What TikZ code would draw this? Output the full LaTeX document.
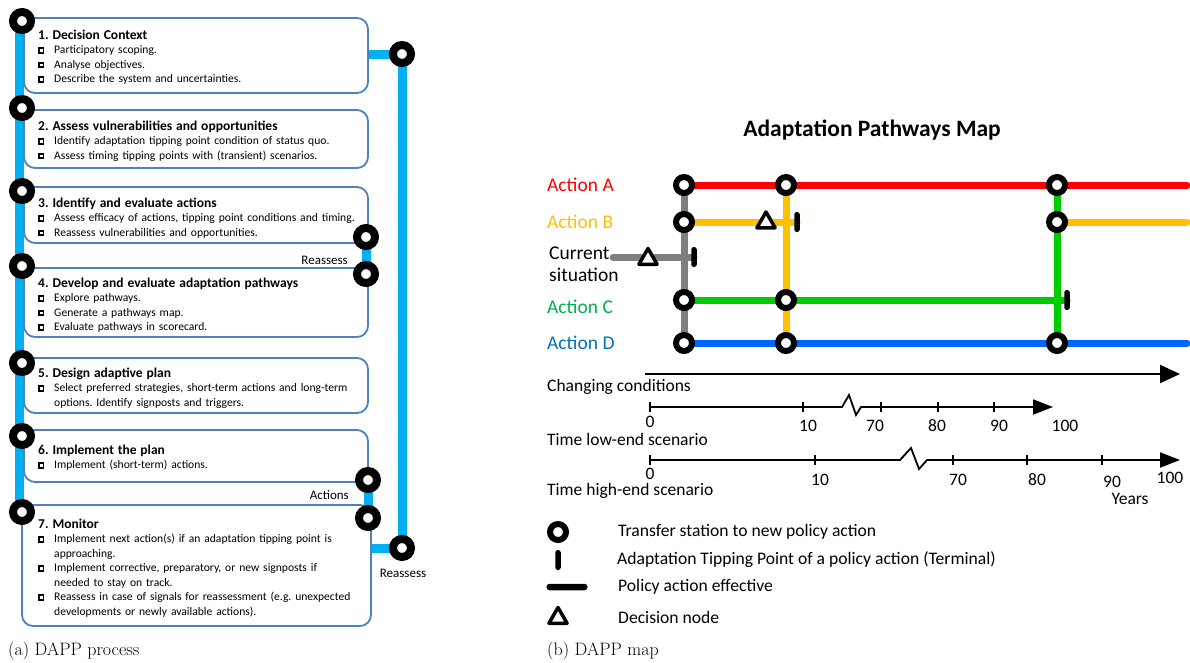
\documentclass[tikz,border=0pt]{standalone}
\usepackage{fontspec}
\newfontfamily\calfont{Carlito}
\usetikzlibrary{arrows.meta,shapes.geometric}
\pgfdeclarelayer{pipes}
\pgfsetlayers{pipes,main}
\frenchspacing

\definecolor{pipeblue}{HTML}{00B0F0}
\definecolor{boxline}{HTML}{4F81BD}
\definecolor{lineA}{HTML}{FF0000}
\definecolor{lineB}{HTML}{FFC000}
\definecolor{lineC}{HTML}{00CC00}
\definecolor{lineD}{HTML}{0066FF}
\definecolor{lineS}{HTML}{7F7F7F}
\definecolor{textC}{HTML}{00B050}
\definecolor{textD}{HTML}{0070C0}

% hollow square bullet and list lines inside the process steps
\newcommand\sqbul{\raisebox{3pt}{\setlength{\fboxsep}{1.4pt}\setlength{\fboxrule}{1.7pt}\fbox{}}}
\newcommand\itm[1]{\makebox[16pt][l]{\sqbul}#1}
\newcommand\cont[1]{\hspace*{16pt}#1}
\newcommand\ttl[1]{{\fontsize{13.5}{14.5}\selectfont\bfseries #1}}

\tikzset{
  pipe/.style={draw=pipeblue, line width=9pt},
  stepbox/.style={draw=boxline, line width=1.8pt, rounded corners=11pt, fill=white,
    inner sep=0pt, outer sep=0pt, anchor=north west},
  bigstop/.style={circle, draw=black, line width=8pt, fill=white, minimum size=18pt, inner sep=0pt},
  stop/.style={circle, draw=black, line width=6pt, fill=white, minimum size=16pt, inner sep=0pt},
  boxtext/.style={anchor=base west, inner sep=0pt, text width=400pt, align=left,
    font=\calfont\fontsize{11.6}{14.5}\selectfont},
  looplabel/.style={inner sep=0pt, font=\calfont\fontsize{13}{15}\selectfont},
  route/.style={line width=7pt, line cap=round},
  terminal/.style={fill=black, rounded corners=2.5pt, minimum width=5.5pt, minimum height=20pt, inner sep=0pt},
  effective/.style={fill=black, rounded corners=3pt, minimum width=41pt, minimum height=6.5pt, inner sep=0pt},
  decision/.style={regular polygon, regular polygon sides=3, draw=black, line width=3.5pt,
    line join=round, fill=white, minimum size=21pt, inner sep=0pt},
  actlabel/.style={anchor=west, inner sep=0pt, font=\calfont\fontsize{19.5}{22}\selectfont},
  axislabel/.style={anchor=west, inner sep=0pt, font=\calfont\fontsize{17.5}{20}\selectfont},
  num/.style={inner sep=0pt, font=\calfont\fontsize{17.5}{20}\selectfont},
  axis/.style={line width=1.8pt, line join=miter},
  tick/.style={line width=1.3pt},
  legend/.style={anchor=west, inner sep=0pt, font=\calfont\fontsize{17.6}{20}\selectfont},
  caption/.style={anchor=west, inner sep=0pt, font=\rmfamily\fontsize{18}{21}\selectfont},
}

\begin{document}
\begin{tikzpicture}[x=1pt,y=-1pt]
\useasboundingbox (0,0) rectangle (1190,662);

%%%%%%%%%%%%%%%% (a) DAPP process %%%%%%%%%%%%%%%%
\coordinate (L1) at (22,21);
\coordinate (L2) at (22,108);
\coordinate (L3) at (22,191);
\coordinate (L4) at (22,266);
\coordinate (L5) at (22,363);
\coordinate (L6) at (22,436);
\coordinate (L7) at (22,512);
\coordinate (R1) at (402,54);
\coordinate (R2) at (402,548);
\coordinate (M1) at (366,237);
\coordinate (M2) at (366,274);
\coordinate (M3) at (368,480);
\coordinate (M4) at (368,518);

% step boxes
\node[stepbox, minimum width=344pt, minimum height=75pt]  (b1) at (24,18)  {};
\node[stepbox, minimum width=344pt, minimum height=58pt]  (b2) at (24,110) {};
\node[stepbox, minimum width=344pt, minimum height=56pt]  (b3) at (24,187) {};
\node[stepbox, minimum width=344pt, minimum height=69pt]  (b4) at (24,268) {};
\node[stepbox, minimum width=344pt, minimum height=55pt]  (b5) at (24,358) {};
\node[stepbox, minimum width=344pt, minimum height=52pt]  (b6) at (24,430) {};
\node[stepbox, minimum width=349pt, minimum height=121pt] (b7) at (22,505) {};

% metro lines of the process
\begin{pgfonlayer}{pipes}
  \draw[pipe] ([xshift=-3pt]L1) -- ([xshift=-3pt]L7);
  \draw[pipe] (b1.east |- R1) -- (R1) -- (R2) -- (b7.east |- R2);
  \draw[pipe] (M1) -- (M2);
  \draw[pipe] (M3) -- (M4);
\end{pgfonlayer}

% step texts
\node[boxtext] (t1) at (38,39) {\ttl{1. Decision Context}\\
  \itm{Participatory scoping.}\\
  \itm{Analyse objectives.}\\
  \itm{Describe the system and uncertainties.}};
\node[boxtext] (t2) at (38,130) {\ttl{2. Assess vulnerabilities and opportunities}\\
  \itm{Identify adaptation tipping point condition of status quo.}\\
  \itm{Assess timing tipping points with (transient) scenarios.}};
\node[boxtext] (t3) at (38,207) {\ttl{3. Identify and evaluate actions}\\
  \itm{Assess efficacy of actions, tipping point conditions and timing.}\\
  \itm{Reassess vulnerabilities and opportunities.}};
\node[boxtext] (t4) at (38,287) {\ttl{4. Develop and evaluate adaptation pathways}\\
  \itm{Explore pathways.}\\
  \itm{Generate a pathways map.}\\
  \itm{Evaluate pathways in scorecard.}};
\node[boxtext] (t5) at (38,377) {\ttl{5. Design adaptive plan}\\
  \itm{Select preferred strategies, short-term actions and long-term}\\
  \cont{options. Identify signposts and triggers.}};
\node[boxtext] (t6) at (38,454) {\ttl{6. Implement the plan}\\
  \itm{Implement (short-term) actions.}};
\node[boxtext] (t7) at (38,528) {\ttl{7. Monitor}\\
  \itm{Implement next action(s) if an adaptation tipping point is}\\
  \cont{approaching.}\\
  \itm{Implement corrective, preparatory, or new signposts if}\\
  \cont{needed to stay on track.}\\
  \itm{Reassess in case of signals for reassessment (e.g. unexpected}\\
  \cont{developments or newly available actions).}};

% loop labels
\node[looplabel, anchor=east] (lr1) at (348,260) {Reassess};
\node[looplabel, anchor=east] (la)  at (349,495) {Actions};
\node[looplabel] (lr2) at (403,573) {Reassess};

% stations
\foreach \s in {L1,L2,L3,L4,L5,L6,L7,R1,R2,M1,M2,M3,M4}
  \node[bigstop] (st\s) at (\s) {};

\node[caption] (capa) at (8,651) {(a) DAPP process};

%%%%%%%%%%%%%%%% (b) DAPP map %%%%%%%%%%%%%%%%
\node[font=\calfont\bfseries\fontsize{23.5}{27}\selectfont, inner sep=0pt] (title) at (872,130) {Adaptation Pathways Map};

\node[actlabel, text=lineA] (labA) at (547,185) {Action A};
\node[actlabel, text=lineB] (labB) at (547,222) {Action B};
\node[actlabel, align=left] (labS) at (549,264) {Current\\situation};
\node[actlabel, text=textC] (labC) at (547,307) {Action C};
\node[actlabel, text=textD] (labD) at (547,343) {Action D};

\coordinate (A1) at (684,185);
\coordinate (A2) at (786,185);
\coordinate (A3) at (1057,185);
\coordinate (AE) at (1187,185);
\coordinate (B1) at (684,222);
\coordinate (BT) at (797,222);
\coordinate (B3) at (1057,222);
\coordinate (BE) at (1187,222);
\coordinate (S0) at (613,257);
\coordinate (ST) at (694,257);
\coordinate (C1) at (684,300);
\coordinate (C2) at (786,300);
\coordinate (CT) at (1067,300);
\coordinate (D1) at (684,343);
\coordinate (D2) at (786,343);
\coordinate (D3) at (1057,343);
\coordinate (DE) at (1187,343);

% routes
\draw[route, lineS] (A1) -- (D1);
\draw[route, lineS] (S0) -- (ST);
\draw[route, lineB] (B1) -- (BT);
\draw[route, lineB] (A2) -- (D2);
\draw[route, lineB] (B3) -- (BE);
\draw[route, lineC] (C1) -- (CT);
\draw[route, lineC] (A3) -- (D3);
\draw[route, lineA] (A1) -- (AE);
\draw[route, lineD] (D1) -- (DE);

% tipping points and decision nodes
\node[terminal] (tpS) at (ST) {};
\node[terminal] (tpB) at (BT) {};
\node[terminal] (tpC) at (CT) {};
\node[decision] (dS) at (648,259) {};
\node[decision] (dB) at (766,222.5) {};

% transfer stations
\foreach \s in {A1,A2,A3,B1,B3,C1,C2,D1,D2,D3}
  \node[stop] (ts\s) at (\s) {};

% time axes
\draw[axis, line width=2.2pt, -{Triangle[length=20pt,width=18pt]}] (645,374) -- (1180,374);
\node[axislabel] (cc) at (547,387) {Changing conditions};

\draw[axis, -{Triangle[length=20pt,width=15pt]}]
  (650,407) -- (842,407) -- (849,395) -- (856,415) -- (861,407) -- (1053,407);
\foreach \x in {650,803,881,938,994} \draw[tick] (\x,402) -- (\x,412);
\node[num] (lo0)   at (650,422) {0};
\node[num] (lo10)  at (808,426) {10};
\node[num] (lo70)  at (875,426) {70};
\node[num] (lo80)  at (937,426) {80};
\node[num] (lo90)  at (999,426) {90};
\node[num] (lo100) at (1065,426) {100};
\node[axislabel] (tlo) at (547,439) {Time low-end scenario};

\draw[axis, -{Triangle[length=20pt,width=15pt]}]
  (650,460) -- (900,460) -- (911,448) -- (919,469) -- (927,460) -- (1180,460);
\foreach \x in {650,815,953,1027,1102} \draw[tick] (\x,455) -- (\x,465);
\node[num] (hi0)   at (650,474) {0};
\node[num] (hi10)  at (820,480) {10};
\node[num] (hi70)  at (958,480) {70};
\node[num] (hi80)  at (1037,480) {80};
\node[num] (hi90)  at (1112,482) {90};
\node[num] (hi100) at (1170,478) {100};
\node[num] (years) at (1130,499) {Years};
\node[axislabel] (thi) at (547,491) {Time high-end scenario};

% legend
\node[stop] (lgS) at (558,532) {};
\node[legend] (lgSt) at (618,532) {Transfer station to new policy action};
\node[terminal] (lgT) at (558,560) {};
\node[legend] (lgTt) at (617,560) {Adaptation Tipping Point of a policy action (Terminal)};
\node[effective] (lgE) at (567,587) {};
\node[legend] (lgEt) at (618,587) {Policy action effective};
\node[decision] (lgD) at (558,618) {};
\node[legend] (lgDt) at (618,617) {Decision node};

\node[caption] (capb) at (547,651) {(b) DAPP map};
\end{tikzpicture}
\end{document}
